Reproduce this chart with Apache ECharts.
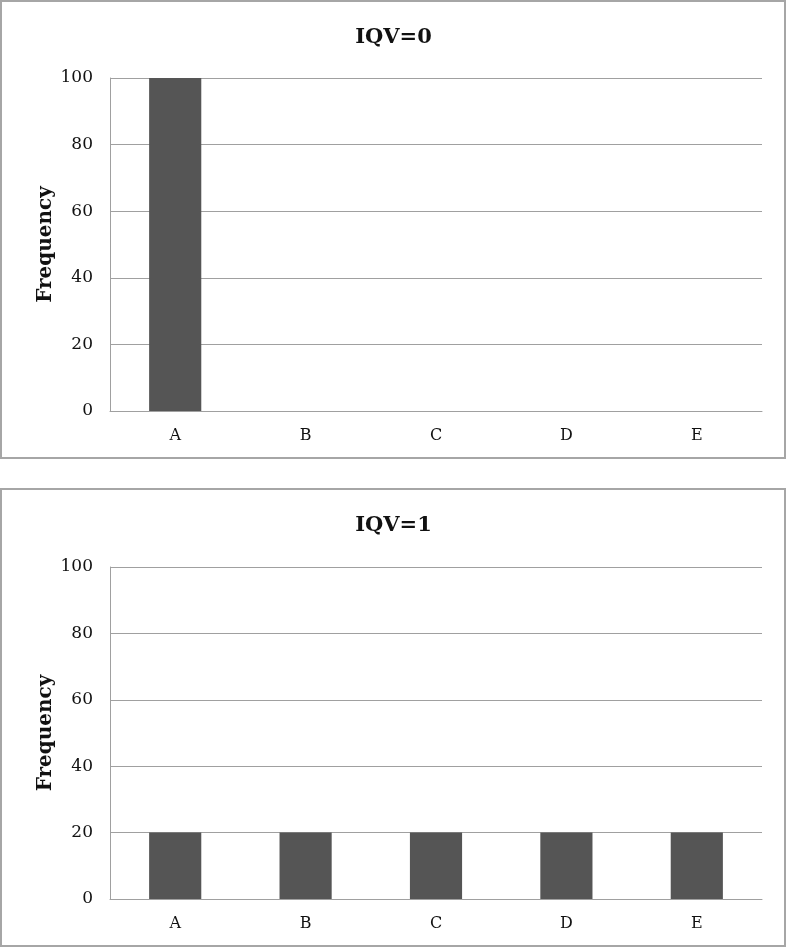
<!DOCTYPE html>
<html>
<head>
<meta charset="utf-8">
<script src="https://cdn.jsdelivr.net/npm/echarts@6/dist/echarts.min.js"></script>
<style>
  html, body { margin: 0; padding: 0; background: #fff; }
  #chart { width: 787px; height: 948px; }
</style>
</head>
<body>
<div id="chart"></div>
<script>
const categories = ['A', 'B', 'C', 'D', 'E']
const iqv0Values = [100, 0, 0, 0, 0]
const iqv1Values = [20, 20, 20, 20, 20]
const panelTitles = ['IQV=0', 'IQV=1']
const yName = 'Frequency'

const serif = '"DejaVu Serif", "Liberation Serif", serif'
const gridColor = '#a0a0a0'
const barColor = '#555555'

const chart = echarts.init(document.getElementById('chart'))

function xAxisFor(idx) {
  return {
    type: 'category',
    gridIndex: idx,
    data: categories,
    axisTick: { show: false },
    axisLine: { lineStyle: { color: gridColor, width: 1 } },
    axisLabel: { color: '#111', fontFamily: serif, fontSize: 16, margin: 17 }
  }
}

function yAxisFor(idx) {
  return {
    type: 'value',
    gridIndex: idx,
    min: 0,
    max: 100,
    interval: 20,
    name: yName,
    nameLocation: 'middle',
    nameGap: 54,
    nameMoveOverlap: false,
    nameTextStyle: { color: '#111', fontFamily: serif, fontSize: 20, fontWeight: 'bold' },
    axisLine: { show: true, lineStyle: { color: gridColor, width: 1 } },
    axisTick: { show: false },
    axisLabel: { color: '#111', fontFamily: serif, fontSize: 17, margin: 17 },
    splitLine: { lineStyle: { color: gridColor, width: 1 } }
  }
}

const option = {
  animation: false,
  title: [
    { text: panelTitles[0], left: 'center', top: 22, textStyle: { fontFamily: serif, fontSize: 21, fontWeight: 'bold', color: '#111' } },
    { text: panelTitles[1], left: 'center', top: 510, textStyle: { fontFamily: serif, fontSize: 21, fontWeight: 'bold', color: '#111' } }
  ],
  graphic: [
    { type: 'rect', shape: { x: 1, y: 1, width: 784, height: 457 }, style: { fill: 'none', stroke: '#a6a6a6', lineWidth: 2 } },
    { type: 'rect', shape: { x: 1, y: 489, width: 784, height: 457 }, style: { fill: 'none', stroke: '#a6a6a6', lineWidth: 2 } }
  ],
  grid: [
    { left: 110, top: 78, width: 652, height: 333 },
    { left: 110, top: 567, width: 652, height: 332 }
  ],
  xAxis: [xAxisFor(0), xAxisFor(1)],
  yAxis: [yAxisFor(0), yAxisFor(1)],
  series: [
    { type: 'bar', xAxisIndex: 0, yAxisIndex: 0, data: iqv0Values, barWidth: '40%', itemStyle: { color: barColor } },
    { type: 'bar', xAxisIndex: 1, yAxisIndex: 1, data: iqv1Values, barWidth: '40%', itemStyle: { color: barColor } }
  ]
}

chart.setOption(option)
</script>
</body>
</html>
